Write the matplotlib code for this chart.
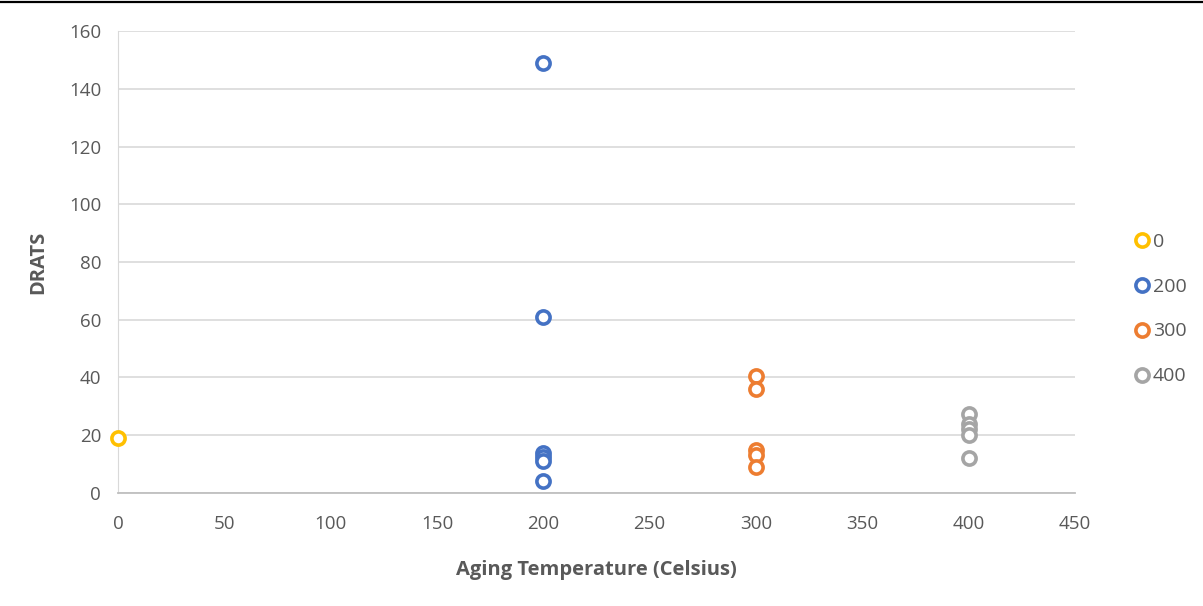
import matplotlib
matplotlib.use("Agg")
import matplotlib.pyplot as plt
from matplotlib.lines import Line2D

plt.rcParams['font.family'] = ['Open Sans', 'DejaVu Sans']

series_names = ["0", "200", "300", "400"]
series_colors = ["#FFC000", "#4472C4", "#ED7D31", "#A5A5A5"]
temps_0 = [0]
drats_0 = [19]
temps_200 = [200, 200, 200, 200, 200, 200]
drats_200 = [149, 61, 14, 12.5, 11, 4]
temps_300 = [300, 300, 300, 300, 300]
drats_300 = [40.5, 36, 15, 13, 9]
temps_400 = [400, 400, 400, 400, 400]
drats_400 = [27.5, 24, 22, 20, 12]

xs = [temps_0, temps_200, temps_300, temps_400]
ys = [drats_0, drats_200, drats_300, drats_400]

fig = plt.figure(figsize=(12.03, 6.06), dpi=100)
ax = fig.add_axes([0.098, 0.1865, 0.7956, 0.7623])

for name, c, x, y in zip(series_names, series_colors, xs, ys):
    ax.plot(x, y, linestyle='none', marker='o', markersize=9.5,
            markerfacecolor='white', markeredgecolor=c, markeredgewidth=2.6,
            label=name, clip_on=False, zorder=3)

ax.set_xlim(0, 450)
ax.set_ylim(0, 160)
ax.set_xticks(range(0, 451, 50))
ax.set_yticks(range(0, 161, 20))
ax.grid(axis='y', color='#D9D9D9', linewidth=1.2)
ax.set_axisbelow(True)
for s in ['top', 'right']:
    ax.spines[s].set_visible(False)
ax.spines['left'].set_color('#D9D9D9')
ax.spines['bottom'].set_color('#BFBFBF')
ax.spines['bottom'].set_linewidth(1.3)
ax.tick_params(axis='both', length=0, labelsize=13.5, colors='#595959', pad=12)
ax.tick_params(axis='x', pad=16)

ax.set_xlabel('Aging Temperature (Celsius)', fontsize=14.5, fontweight='bold',
              color='#595959', labelpad=19)
ax.set_ylabel('DRATS', fontsize=14.5, fontweight='bold', color='#595959', labelpad=15)

leg = fig.legend(loc='center left', bbox_to_anchor=(0.935, 0.49), frameon=False,
                 fontsize=14, labelcolor='#595959', handletextpad=0.05,
                 labelspacing=1.38, handlelength=1.0, borderaxespad=0)

fig.add_artist(Line2D([0, 1], [0.9965, 0.9965], transform=fig.transFigure,
                      color='black', linewidth=1.6))

fig.savefig('out.png', dpi=100)
